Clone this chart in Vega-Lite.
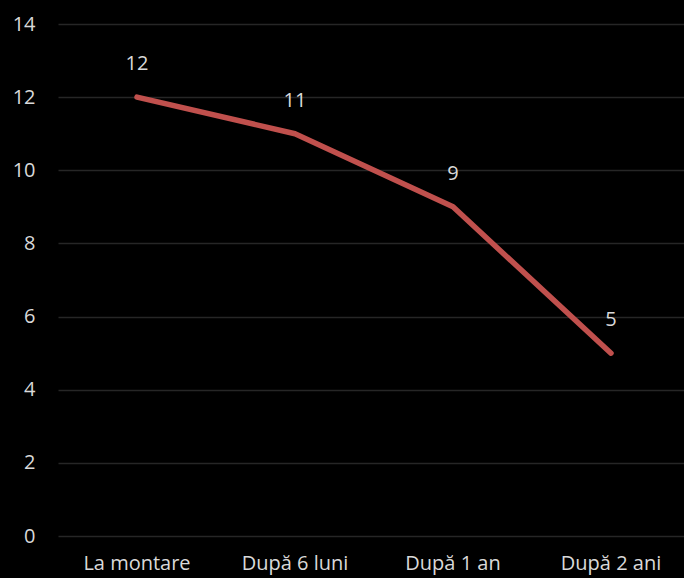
{
  "$schema": "https://vega.github.io/schema/vega-lite/v6.json",
  "autosize": {"type": "none"},
  "padding": {"left": 58, "top": 24, "right": 0, "bottom": 42},
  "width": 632,
  "height": 512,
  "background": "#000000",
  "config": {
    "view": {"stroke": null},
    "font": "Open Sans"
  },
  "data": {
    "values": [
      {"etapa": "La montare", "valoare": 12},
      {"etapa": "După 6 luni", "valoare": 11},
      {"etapa": "După 1 an", "valoare": 9},
      {"etapa": "După 2 ani", "valoare": 5}
    ]
  },
  "encoding": {
    "x": {
      "field": "etapa", "type": "nominal", "sort": null,
      "scale": {"type": "band", "paddingInner": 0, "paddingOuter": 0},
      "axis": {
        "title": null, "labelAngle": 0, "domain": false, "ticks": false,
        "labelColor": "#d9d9d9", "labelFontSize": 20, "labelPadding": 17, "labelFont": "Open Sans"
      }
    },
    "y": {
      "field": "valoare", "type": "quantitative",
      "scale": {"domain": [0, 14], "nice": false},
      "axis": {
        "title": null, "values": [0, 2, 4, 6, 8, 10, 12, 14], "domain": false, "ticks": false,
        "labelColor": "#d9d9d9", "labelFontSize": 20, "labelPadding": 23, "labelFont": "Open Sans",
        "gridColor": "#262626", "gridWidth": 1.5
      }
    }
  },
  "layer": [
    {
      "mark": {"type": "line", "color": "#c0504d", "strokeWidth": 5.5, "strokeCap": "round", "strokeJoin": "round"}
    },
    {
      "mark": {"type": "text", "color": "#d9d9d9", "fontSize": 20, "baseline": "middle", "dy": -33, "font": "Open Sans"},
      "encoding": {"text": {"field": "valoare", "type": "quantitative"}}
    }
  ]
}
